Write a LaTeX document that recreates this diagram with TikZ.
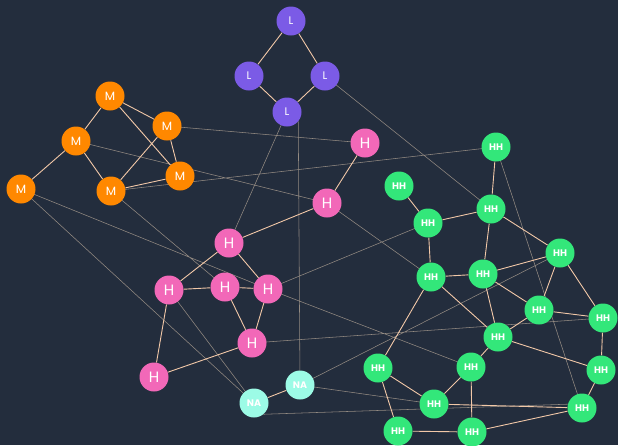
\documentclass[tikz,border=0pt]{standalone}
\usepackage{fontspec}
\setmainfont{Poppins}
\definecolor{night}{HTML}{232D3D}
\definecolor{peach}{HTML}{F2C8A8}
\definecolor{ash}{HTML}{938A82}
\definecolor{lilac}{HTML}{7B5BE6}
\definecolor{tangerine}{HTML}{FF8800}
\definecolor{rosy}{HTML}{F268B8}
\definecolor{mint}{HTML}{33E77A}
\definecolor{aqua}{HTML}{9CFBE6}
\usepackage{tikz}
\usetikzlibrary{positioning}
\pgfdeclarelayer{back}
\pgfsetlayers{back,main}

\begin{document}
\begin{tikzpicture}[x = 1pt, y = -1pt,
		dot/.style = {circle, minimum size = 29pt, inner sep = 0pt, text = white},
		lnode/.style = {dot, fill = lilac, font = \fontsize{11}{11}\selectfont},
		mnode/.style = {dot, fill = tangerine, font = \fontsize{12}{12}\selectfont},
		hnode/.style = {dot, fill = rosy, font = \fontsize{15}{15}\selectfont},
		hhnode/.style = {dot, fill = mint, font = \fontsize{9.5}{9.5}\selectfont\bfseries},
		nanode/.style = {dot, fill = aqua, font = \fontsize{9.5}{9.5}\selectfont\bfseries},
		tie/.style = {draw = peach, line width = 0.9pt},
		faint/.style = {draw = ash, line width = 0.55pt}]
		\useasboundingbox (0,0) rectangle (618,445);
		% L group
		\node[lnode] (l1) at (291,21) {L};
		\node[lnode] (l2) at (249,76) {L};
		\node[lnode] (l3) at (325,76) {L};
		\node[lnode] (l4) at (287,112) {L};
		% M group
		\node[mnode] (m1) at (110,96) {M};
		\node[mnode] (m2) at (167,126) {M};
		\node[mnode] (m3) at (76,141) {M};
		\node[mnode] (m4) at (180,176) {M};
		\node[mnode] (m5) at (111,191) {M};
		\node[mnode] (m6) at (21,189) {M};
		% H group
		\node[hnode] (h1) at (365,143) {H};
		\node[hnode] (h2) at (327,203) {H};
		\node[hnode] (h3) at (229,243) {H};
		\node[hnode] (h4) at (169,290) {H};
		\node[hnode] (h5) at (225,287) {H};
		\node[hnode] (h6) at (268,289) {H};
		\node[hnode] (h7) at (252,343) {H};
		\node[hnode] (h8) at (154,377) {H};
		% NA group
		\node[nanode] (na1) at (300,385) {NA};
		\node[nanode] (na2) at (254,403) {NA};
		% HH group
		\node[hhnode] (hh1) at (496,147) {HH};
		\node[hhnode] (hh2) at (399,186) {HH};
		\node[hhnode] (hh3) at (491,209) {HH};
		\node[hhnode] (hh4) at (428,223) {HH};
		\node[hhnode] (hh5) at (560,253) {HH};
		\node[hhnode] (hh6) at (431,277) {HH};
		\node[hhnode] (hh7) at (483,274) {HH};
		\node[hhnode] (hh8) at (539,310) {HH};
		\node[hhnode] (hh9) at (603,318) {HH};
		\node[hhnode] (hh10) at (498,337) {HH};
		\node[hhnode] (hh11) at (378,368) {HH};
		\node[hhnode] (hh12) at (471,367) {HH};
		\node[hhnode] (hh13) at (601,370) {HH};
		\node[hhnode] (hh14) at (434,404) {HH};
		\node[hhnode] (hh15) at (582,408) {HH};
		\node[hhnode] (hh16) at (398,431) {HH};
		\node[hhnode] (hh17) at (472,432) {HH};
		\begin{pgfonlayer}{back}
			\fill[night] (0,0) rectangle (618,445);
			% links between groups
			\draw[faint] (l4.center) -- (h3.center) (l4.-40) -- (na1.center) (l3.center) -- (hh3.center)
				(m2.center) -- (h1.center) (m3.center) -- (h2.center) (m5.center) -- (hh1.center)
				(m6.center) -- (na2.center) (m6.center) -- (h6.center) (m5.center) -- (h5.center)
				(h4.center) -- (na2.center) (h6.center) -- (hh4.center) (h2.center) -- (hh6.center)
				(h6.center) -- (hh12.center) (h7.center) -- (hh9.center) (na1.center) -- (hh5.center)
				(na1.center) -- (hh14.center) (na2.-50) -- (hh15.165) (hh1.center) -- (hh15.center);
			% links inside groups
			\draw[tie] (l1) -- (l2) (l1) -- (l3) (l2) -- (l4) (l3) -- (l4);
			\draw[tie] (m1) -- (m2) (m1) -- (m3) (m1) -- (m4) (m2) -- (m5) (m2) -- (m4)
				(m3) -- (m5) (m3) -- (m6) (m5) -- (m4);
			\draw[tie] (h1) -- (h2) (h2) -- (h3) (h3) -- (h4) (h3) -- (h6) (h4) -- (h5)
				(h5) -- (h6) (h5) -- (h7) (h6) -- (h7) (h4) -- (h8) (h8) -- (h7);
			\draw[tie] (na1) -- (na2);
			\draw[tie] (hh1) -- (hh3) (hh2) -- (hh4) (hh4) -- (hh3) (hh3) -- (hh5) (hh3) -- (hh7)
				(hh4) -- (hh6) (hh6) -- (hh7) (hh5) -- (hh7) (hh5) -- (hh8) (hh5) -- (hh9)
				(hh7) -- (hh8) (hh7) -- (hh10) (hh6) -- (hh10) (hh6) -- (hh11) (hh8) -- (hh10)
				(hh8) -- (hh9) (hh9) -- (hh13) (hh10) -- (hh12) (hh10) -- (hh13) (hh11) -- (hh14)
				(hh11) -- (hh16) (hh12) -- (hh14) (hh12) -- (hh17) (hh13) -- (hh15) (hh14) -- (hh15)
				(hh16) -- (hh17) (hh17) -- (hh15);
		\end{pgfonlayer}
	\end{tikzpicture}
\end{document}
